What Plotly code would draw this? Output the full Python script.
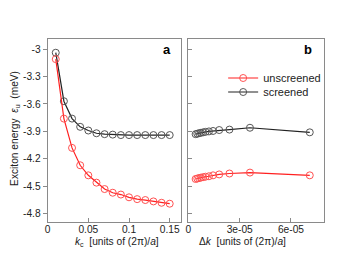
import plotly.graph_objects as go

kc = [0.01, 0.02, 0.03, 0.04, 0.05, 0.06, 0.07, 0.08, 0.09, 0.10, 0.11, 0.12, 0.13, 0.14, 0.15]
unscreened_a = [-3.11, -3.76, -4.08, -4.27, -4.38, -4.46, -4.53, -4.57, -4.59, -4.62, -4.64, -4.65, -4.665, -4.68, -4.69]
screened_a = [-3.04, -3.57, -3.76, -3.85, -3.89, -3.92, -3.93, -3.935, -3.94, -3.94, -3.94, -3.94, -3.94, -3.94, -3.94]

dk = [4.2e-6, 5.2e-6, 6.2e-6, 7.3e-6, 8.6e-6, 1.0e-5, 1.2e-5, 1.44e-5, 1.8e-5, 2.4e-5, 3.6e-5, 7.1e-5]
unscreened_b = [-4.42, -4.415, -4.41, -4.405, -4.40, -4.395, -4.39, -4.38, -4.37, -4.36, -4.35, -4.38]
screened_b = [-3.93, -3.925, -3.92, -3.915, -3.91, -3.905, -3.90, -3.895, -3.885, -3.88, -3.86, -3.91]

y_ticks = [-3.0, -3.3, -3.6, -3.9, -4.2, -4.5, -4.8]
y_ticktext = ["-3", "-3.3", "-3.6", "-3.9", "-4.2", "-4.5", "-4.8"]
xa_ticks = [0, 0.05, 0.1, 0.15]
xa_ticktext = ["0", "0.05", "0.1", "0.15"]
xb_ticks = [0, 3e-5, 6e-5]
xb_ticktext = ["0", "3e-05", "6e-05"]

RED = "#ff2020"
RED_M = "#ff5050"
BLK = "#222222"
BLK_M = "#555555"
FRAME = "#8a8a8a"
FONT = "Liberation Sans"

fig = go.Figure()

def add(x, y, color, mcolor, name, xa, ya, show, legend="legend"):
    fig.add_trace(go.Scatter(
        x=x, y=y, mode="lines+markers", name=name, showlegend=show, legend=legend,
        line=dict(color=color, width=1.2),
        marker=dict(symbol="circle-open", size=7, color=mcolor, line=dict(width=1, color=mcolor)),
        xaxis=xa, yaxis=ya))

add(kc, screened_a, BLK, BLK_M, "screened", "x", "y", False)
add(kc, unscreened_a, RED, RED_M, "unscreened", "x", "y", False)
add(dk, screened_b, BLK, BLK_M, "screened", "x2", "y2", False)
add(dk, unscreened_b, RED, RED_M, "unscreened", "x2", "y2", False)
# legend entries
add([None], [None], RED, RED_M, "unscreened", "x2", "y2", True, "legend")
add([None], [None], BLK, BLK_M, "screened", "x2", "y2", True, "legend2")

W, H = 359, 254
yr = [-4.89, -2.89]
axis_common = dict(showline=True, mirror=True, linecolor=FRAME, linewidth=1,
                   showgrid=False, zeroline=False, tickcolor=FRAME, ticklen=4,
                   tickfont=dict(family=FONT, size=10.2, color="#222"))
leg_common = dict(xanchor="left", yanchor="middle", bgcolor="rgba(0,0,0,0)",
                  font=dict(family=FONT, size=11, color="#222"), itemwidth=30)

fig.update_layout(
    width=W, height=H, autosize=False,
    margin=dict(l=0, r=0, t=0, b=0),
    paper_bgcolor="white", plot_bgcolor="white",
    font=dict(family=FONT, size=10.5, color="#222"),
    xaxis=dict(domain=[45/W, 180/W], range=[0, 0.1645], tickvals=xa_ticks, ticktext=xa_ticktext,
               ticks="inside", anchor="y", ticklabelstandoff=-2, **axis_common),
    yaxis=dict(domain=[1-222/H, 1-39/H], range=yr, tickvals=y_ticks, ticktext=y_ticktext,
               ticks="outside", anchor="x", **axis_common),
    xaxis2=dict(domain=[187/W, 324/W], range=[0, 7.95e-5], tickvals=xb_ticks, ticktext=xb_ticktext,
                ticks="inside", anchor="y2", ticklabelstandoff=-2, **axis_common),
    yaxis2=dict(domain=[1-222/H, 1-39/H], range=yr, tickvals=y_ticks, showticklabels=False,
                ticks="inside", anchor="x2", **axis_common),
    legend=dict(x=222/W, y=1-78/H, **leg_common),
    legend2=dict(x=222/W, y=1-92/H, **leg_common),
    annotations=[
        dict(text="<b>a</b>", x=171/W, y=1-50/H, xref="paper", yref="paper", showarrow=False,
             xanchor="right", yanchor="middle", font=dict(family=FONT, size=13, color="#000")),
        dict(text="<b>b</b>", x=314/W, y=1-50/H, xref="paper", yref="paper", showarrow=False,
             xanchor="right", yanchor="middle", font=dict(family=FONT, size=13, color="#000")),
        dict(text="<i>k</i><sub>c</sub>  [units of (2π)/<i>a</i>]", x=115/W, y=1-242/H,
             xref="paper", yref="paper", showarrow=False, xanchor="center", yanchor="middle",
             font=dict(family=FONT, size=10.2, color="#222")),
        dict(text="Δ<i>k</i>  [units of (2π)/<i>a</i>]", x=242/W, y=1-241/H,
             xref="paper", yref="paper", showarrow=False, xanchor="center", yanchor="middle",
             font=dict(family=FONT, size=10.2, color="#222")),
        dict(text="Exciton energy  <i>ε</i><sub>u</sub>  (meV)", x=12/W, y=1-128/H,
             xref="paper", yref="paper", showarrow=False, textangle=-90, xanchor="center", yanchor="middle",
             font=dict(family=FONT, size=10.2, color="#222")),
    ],
)

fig.write_html("out.html", config={"displayModeBar": False},
               post_script="document.body.style.margin='0';document.body.style.overflow='hidden';")
